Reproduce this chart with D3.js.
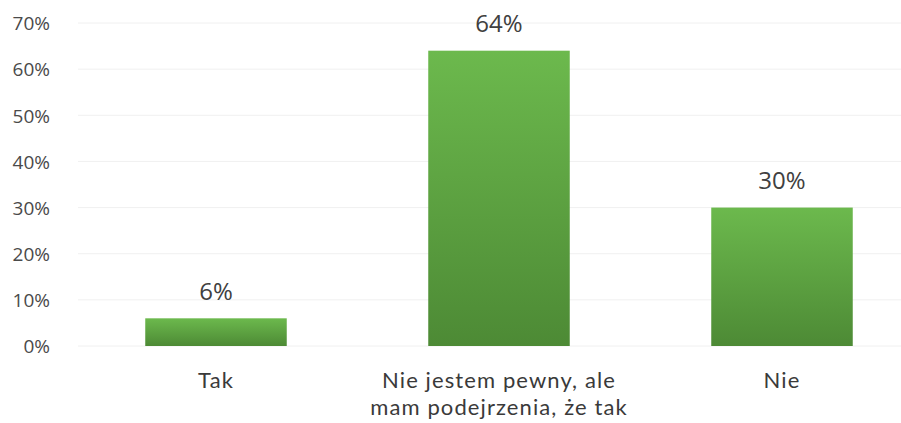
<!DOCTYPE html>
<html><head><meta charset="utf-8">
<script src="https://cdn.jsdelivr.net/npm/d3@7"></script>
<style>body{margin:0;background:#fff}svg{display:block}</style>
</head><body>
<svg id="c" width="901" height="423"></svg>
<script>
const categories = [["Tak"], ["Nie jestem pewny, ale", "mam podejrzenia, że tak"], ["Nie"]];
const values = [6, 64, 30];
const valueLabels = ["6%", "64%", "30%"];
const yTicks = [0, 10, 20, 30, 40, 50, 60, 70];

const svg = d3.select("#c");
const x = d3.scaleBand().domain(d3.range(categories.length)).range([74.5, 923.5]).paddingInner(0.5).paddingOuter(0.25);
const y = d3.scaleLinear().domain([0, 70]).range([346, 23]);

const defs = svg.append("defs");
const g = defs.append("linearGradient").attr("id", "gr").attr("x1", 0).attr("y1", 0).attr("x2", 0).attr("y2", 1);
g.append("stop").attr("offset", "0%").attr("stop-color", "#6cb94d");
g.append("stop").attr("offset", "100%").attr("stop-color", "#4d8a35");

// gridlines
svg.append("g").selectAll("line").data(yTicks).join("line")
  .attr("x1", 78).attr("x2", 901)
  .attr("y1", d => y(d)).attr("y2", d => y(d))
  .attr("stroke", "#f0f0f0").attr("stroke-width", 1);

// y axis
const ya = svg.append("g").attr("transform", "translate(50,0)")
  .call(d3.axisLeft(y).tickValues(yTicks).tickFormat(d => d + "%").tickSize(0).tickPadding(0));
ya.select(".domain").remove();
ya.selectAll("text").attr("font-family", "'Open Sans', sans-serif").attr("font-size", 19).attr("fill", "#4a4a4a").attr("dy", "0.36em");

// bars
svg.append("g").selectAll("rect").data(values).join("rect")
  .attr("x", (d, i) => x(i)).attr("width", x.bandwidth())
  .attr("y", d => y(d)).attr("height", d => y(0) - y(d))
  .attr("fill", "url(#gr)");

// value labels
svg.append("g").selectAll("text").data(values).join("text")
  .attr("x", (d, i) => x(i) + x.bandwidth() / 2)
  .attr("y", d => y(d) - 18.5)
  .attr("text-anchor", "middle")
  .attr("font-family", "'Open Sans', sans-serif").attr("font-size", 24).attr("fill", "#404040")
  .text((d, i) => valueLabels[i]);

// category labels
const cl = svg.append("g").selectAll("text").data(categories).join("text")
  .attr("x", (d, i) => x(i) + x.bandwidth() / 2)
  .attr("y", 388)
  .attr("text-anchor", "middle")
  .attr("font-family", "Lato, 'Open Sans', sans-serif").attr("font-size", 22)
  .attr("letter-spacing", 1.1).attr("fill", "#3a3a3a");
cl.each(function(d, i) {
  d3.select(this).selectAll("tspan").data(d).join("tspan")
    .attr("x", x(i) + x.bandwidth() / 2)
    .attr("dy", (t, j) => j === 0 ? 0 : 26.5)
    .text(t => t);
});
</script>
</body></html>
